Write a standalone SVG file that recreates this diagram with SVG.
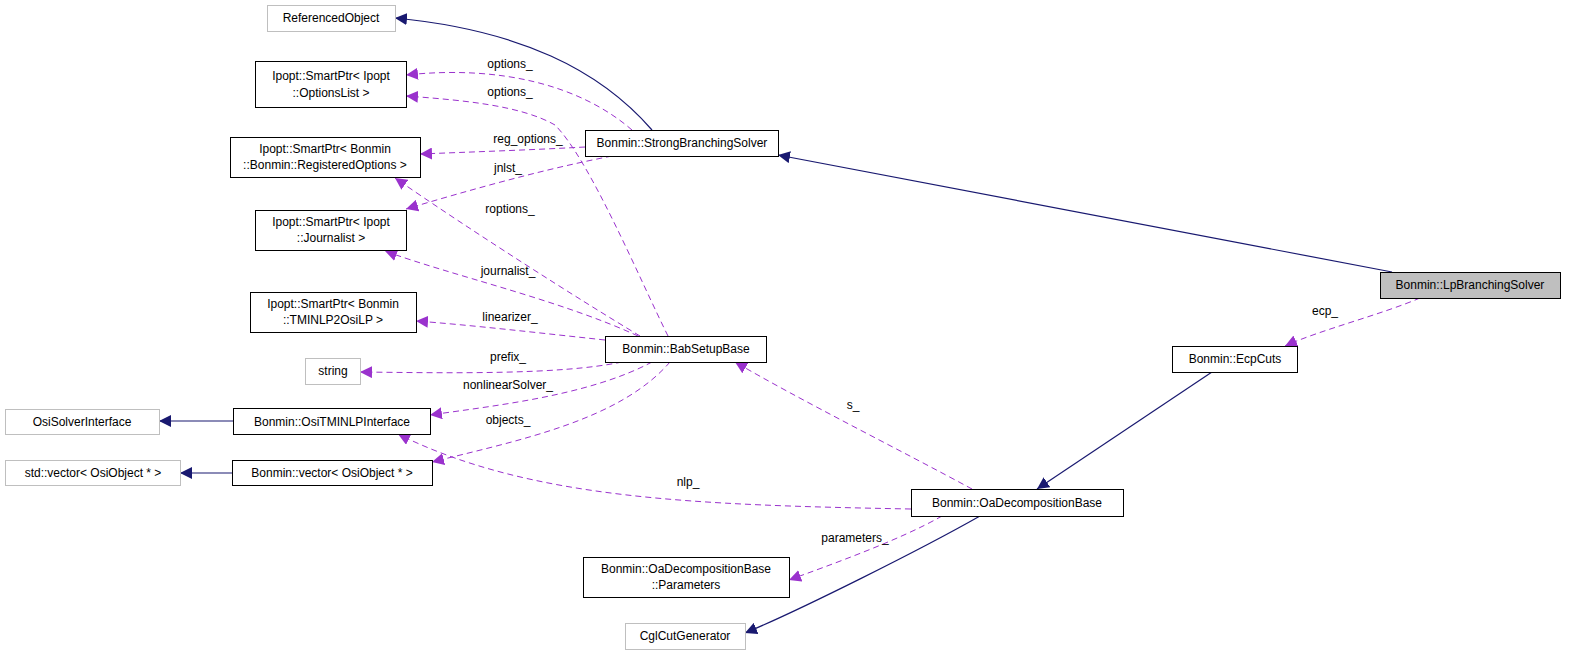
<svg xmlns="http://www.w3.org/2000/svg" width="1573" height="652" viewBox="0 0 1573 652">
<style>
text{font-family:"Liberation Sans",Arial,sans-serif;font-size:12px;fill:#000}
.n{fill:#fff;stroke:#000;stroke-width:1}
.g{fill:#fff;stroke:#bfbfbf;stroke-width:1}
.s{fill:#bfbfbf;stroke:#000;stroke-width:1}
.i{fill:none;stroke:#191970;stroke-width:1.2}
.u{fill:none;stroke:#9a32cd;stroke-width:1;stroke-dasharray:6,4}
</style>
<defs>
<marker id="ai" viewBox="0 0 10 10" refX="10" refY="5" markerWidth="12" markerHeight="12" markerUnits="userSpaceOnUse" orient="auto"><path d="M0,0L10,5L0,10z" fill="#191970"/></marker>
<marker id="au" viewBox="0 0 10 10" refX="10" refY="5" markerWidth="12" markerHeight="12" markerUnits="userSpaceOnUse" orient="auto"><path d="M0,0L10,5L0,10z" fill="#9a32cd"/></marker>
</defs>
<g id="edges" text-anchor="middle">
<path class="i" marker-end="url(#ai)" d="M652,130C600,70 520,30 395,18"/>
<path class="i" marker-end="url(#ai)" d="M1392,272L778,155"/>
<path class="i" marker-end="url(#ai)" d="M1212,372L1037,489"/>
<path class="i" marker-end="url(#ai)" d="M980,516C920,550 800,610 745,633"/>
<path class="i" marker-end="url(#ai)" d="M233,421L159,421"/>
<path class="i" marker-end="url(#ai)" d="M232,473L180,473"/>
<path class="u" marker-end="url(#au)" d="M632,130C580,85 500,65 406,75"/>
<text x="510" y="68">options_</text>
<path class="u" marker-end="url(#au)" d="M668,336C640,280 590,160 555,125C520,105 460,100 406,96"/>
<text x="510" y="96">options_</text>
<path class="u" marker-end="url(#au)" d="M585,147C530,150 470,152 420,154"/>
<text x="528" y="143">reg_options_</text>
<path class="u" marker-end="url(#au)" d="M612,156C540,170 470,190 406,209"/>
<text x="508" y="172">jnlst_</text>
<path class="u" marker-end="url(#au)" d="M640,336C580,300 470,230 395,178"/>
<text x="510" y="213">roptions_</text>
<path class="u" marker-end="url(#au)" d="M638,336C560,300 450,275 385,251"/>
<text x="508" y="275">journalist_</text>
<path class="u" marker-end="url(#au)" d="M605,340C540,333 470,325 416,321"/>
<text x="510" y="321">linearizer_</text>
<path class="u" marker-end="url(#au)" d="M622,362C560,375 450,373 360,372"/>
<text x="508" y="361">prefix_</text>
<path class="u" marker-end="url(#au)" d="M652,362C590,395 500,405 430,415"/>
<text x="508" y="389">nonlinearSolver_</text>
<path class="u" marker-end="url(#au)" d="M670,362C620,420 520,440 432,462"/>
<text x="508" y="424">objects_</text>
<path class="u" marker-end="url(#au)" d="M972,489C900,450 800,400 735,362"/>
<text x="853" y="409">s_</text>
<path class="u" marker-end="url(#au)" d="M911,509C700,505 530,500 398,434"/>
<text x="688" y="486">nlp_</text>
<path class="u" marker-end="url(#au)" d="M942,516C900,540 830,565 789,580"/>
<text x="855" y="542">parameters_</text>
<path class="u" marker-end="url(#au)" d="M1420,298C1380,315 1320,330 1285,346"/>
<text x="1325" y="315">ecp_</text>
</g>
<g text-anchor="middle">
<g id="n_ref"><rect class="g" x="267.5" y="5.5" width="128" height="26"/><text x="331" y="22">ReferencedObject</text></g>
<g id="n_opt"><rect class="n" x="255.5" y="61.5" width="151" height="46"/><text x="331" y="80">Ipopt::SmartPtr&lt; Ipopt</text><text x="331" y="97">::OptionsList &gt;</text></g>
<g id="n_reg"><rect class="n" x="230.5" y="137.5" width="190" height="40"/><text x="325" y="153">Ipopt::SmartPtr&lt; Bonmin</text><text x="325" y="169">::Bonmin::RegisteredOptions &gt;</text></g>
<g id="n_jnl"><rect class="n" x="255.5" y="210.5" width="151" height="40"/><text x="331" y="226">Ipopt::SmartPtr&lt; Ipopt</text><text x="331" y="242">::Journalist &gt;</text></g>
<g id="n_lin"><rect class="n" x="250.5" y="292.5" width="166" height="40"/><text x="333" y="308">Ipopt::SmartPtr&lt; Bonmin</text><text x="333" y="324">::TMINLP2OsiLP &gt;</text></g>
<g id="n_str"><rect class="g" x="305.5" y="358.5" width="55" height="26"/><text x="333" y="375">string</text></g>
<g id="n_osi"><rect class="g" x="5.5" y="409.5" width="154" height="25"/><text x="82" y="426">OsiSolverInterface</text></g>
<g id="n_otm"><rect class="n" x="233.5" y="408.5" width="197" height="26"/><text x="332" y="426">Bonmin::OsiTMINLPInterface</text></g>
<g id="n_sv"><rect class="g" x="5.5" y="460.5" width="175" height="25"/><text x="93" y="477">std::vector&lt; OsiObject * &gt;</text></g>
<g id="n_bv"><rect class="n" x="232.5" y="460.5" width="200" height="25"/><text x="332" y="477">Bonmin::vector&lt; OsiObject * &gt;</text></g>
<g id="n_bab"><rect class="n" x="605.5" y="336.5" width="161" height="26"/><text x="686" y="353">Bonmin::BabSetupBase</text></g>
<g id="n_sbs"><rect class="n" x="585.5" y="130.5" width="193" height="26"/><text x="682" y="147">Bonmin::StrongBranchingSolver</text></g>
<g id="n_lpb"><rect class="s" x="1380.5" y="272.5" width="180" height="26"/><text x="1470" y="289">Bonmin::LpBranchingSolver</text></g>
<g id="n_ecp"><rect class="n" x="1172.5" y="346.5" width="125" height="26"/><text x="1235" y="363">Bonmin::EcpCuts</text></g>
<g id="n_oad"><rect class="n" x="911.5" y="489.5" width="212" height="27"/><text x="1017" y="507">Bonmin::OaDecompositionBase</text></g>
<g id="n_par"><rect class="n" x="583.5" y="557.5" width="206" height="40"/><text x="686" y="573">Bonmin::OaDecompositionBase</text><text x="686" y="589">::Parameters</text></g>
<g id="n_cgl"><rect class="g" x="625.5" y="623.5" width="120" height="26"/><text x="685" y="640">CglCutGenerator</text></g>
</g>
</svg>
